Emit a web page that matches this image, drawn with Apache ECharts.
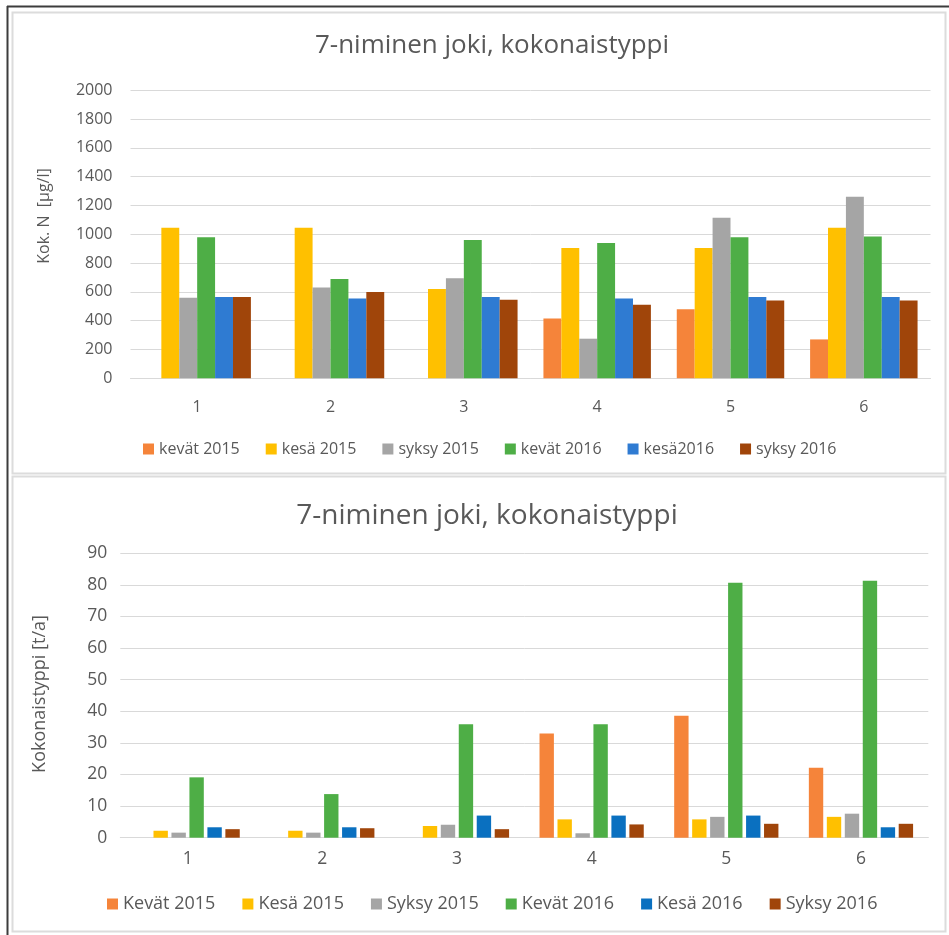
<!DOCTYPE html>
<html>
<head>
<meta charset="utf-8">
<title>7-niminen joki, kokonaistyppi</title>
<script src="https://cdn.jsdelivr.net/npm/echarts@6/dist/echarts.min.js"></script>
<style>
  html, body { margin: 0; padding: 0; background: #ffffff; }
  #chart { width: 949px; height: 935px; }
</style>
</head>
<body>
<div id="chart"></div>
<script>
// Sampling sites
const categories = ['1', '2', '3', '4', '5', '6'];

// Total nitrogen concentration, µg/l
const concNames = ['kevät 2015', 'kesä 2015', 'syksy 2015', 'kevät 2016', 'kesä2016', 'syksy 2016'];
const concKevat2015 = [null, null, null, 415, 480, 270];
const concKesa2015  = [1045, 1045, 620, 905, 905, 1045];
const concSyksy2015 = [560, 630, 695, 275, 1115, 1260];
const concKevat2016 = [980, 690, 960, 940, 980, 985];
const concKesa2016  = [565, 555, 565, 555, 565, 565];
const concSyksy2016 = [565, 600, 545, 510, 540, 540];

// Total nitrogen load, t/a
const loadNames = ['Kevät 2015', 'Kesä 2015', 'Syksy 2015', 'Kevät 2016', 'Kesä 2016', 'Syksy 2016'];
const loadKevat2015 = [null, null, null, 33.0, 38.6, 22.1];
const loadKesa2015  = [2.2, 2.2, 3.7, 5.8, 5.8, 6.6];
const loadSyksy2015 = [1.6, 1.6, 4.1, 1.4, 6.6, 7.6];
const loadKevat2016 = [19.1, 13.8, 35.9, 35.9, 80.7, 81.3];
const loadKesa2016  = [3.3, 3.3, 7.0, 7.0, 7.0, 3.3];
const loadSyksy2016 = [2.7, 3.0, 2.7, 4.2, 4.4, 4.4];

const concColors = ['#F5843A', '#FFC000', '#A5A5A5', '#4EAE46', '#2F7BD2', '#A0450A'];
const loadColors = ['#F5843A', '#FFC000', '#A5A5A5', '#4EAE46', '#0A70C0', '#A0450A'];

const FONT = 'Open Sans';
const TEXT = '#595959';
const GRID_LINE = '#d9d9d9';

const chart = echarts.init(document.getElementById('chart'), null, { renderer: 'canvas' });

function valueAxis(gridIndex, max, interval, fontSize, margin) {
  return {
    type: 'value', gridIndex, min: 0, max, interval,
    axisLine: { show: false }, axisTick: { show: false },
    axisLabel: { color: TEXT, fontFamily: FONT, fontSize, margin,
                 formatter: (v) => String(v) },
    splitLine: { lineStyle: { color: GRID_LINE, width: 1 } }
  };
}
function categoryAxis(gridIndex, fontSize, margin) {
  return {
    type: 'category', gridIndex, data: categories,
    axisLine: { lineStyle: { color: GRID_LINE, width: 1 } },
    axisTick: { show: false },
    axisLabel: { color: TEXT, fontFamily: FONT, fontSize, margin }
  };
}
function barSeries(names, values, colors, axisIndex, gap, catGap) {
  return values.map((data, i) => ({
    type: 'bar', name: names[i], data,
    xAxisIndex: axisIndex, yAxisIndex: axisIndex,
    barGap: gap, barCategoryGap: catGap,
    itemStyle: { color: colors[i] },
    emphasis: { disabled: true }
  }));
}

const option = {
  backgroundColor: '#ffffff',
  animation: false,
  title: [
    { text: '7-niminen joki, kokonaistyppi', left: 487, top: 28, textAlign: 'center',
      textStyle: { color: TEXT, fontFamily: FONT, fontSize: 26, fontWeight: 'normal' } },
    { text: '7-niminen joki, kokonaistyppi', left: 482, top: 497, textAlign: 'center',
      textStyle: { color: TEXT, fontFamily: FONT, fontSize: 28, fontWeight: 'normal' } }
  ],
  legend: [
    { data: concNames, left: 138, top: 436, itemWidth: 11, itemHeight: 11, itemGap: 26,
      icon: 'rect', textStyle: { color: TEXT, fontFamily: FONT, fontSize: 16 } },
    { data: loadNames, left: 102, top: 890, itemWidth: 11, itemHeight: 11, itemGap: 27,
      icon: 'rect', textStyle: { color: TEXT, fontFamily: FONT, fontSize: 18 } }
  ],
  grid: [
    { left: 130.5, right: 18.5, top: 90.3, height: 288 },
    { left: 120.3, right: 20.7, top: 553.3, height: 284.4 }
  ],
  xAxis: [categoryAxis(0, 16, 21), categoryAxis(1, 17.5, 12)],
  yAxis: [valueAxis(0, 2000, 200, 16, 18), valueAxis(1, 90, 10, 17.5, 13)],
  series: [
    ...barSeries(concNames,
      [concKevat2015, concKesa2015, concSyksy2015, concKevat2016, concKesa2016, concSyksy2016],
      concColors, 0, '0%', '19.4%'),
    ...barSeries(loadNames,
      [loadKevat2015, loadKesa2015, loadSyksy2015, loadKevat2016, loadKesa2016, loadSyksy2016],
      loadColors, 1, '25%', '22.6%')
  ],
  graphic: [
    // chart frames
    { type: 'rect', z: -10, shape: { x: 12.5, y: 12.5, width: 933, height: 461 },
      style: { fill: '#ffffff', stroke: '#dcdcdc', lineWidth: 2 } },
    { type: 'rect', z: -10, shape: { x: 12.5, y: 476.5, width: 933, height: 455 },
      style: { fill: '#ffffff', stroke: '#dcdcdc', lineWidth: 2 } },
    { type: 'line', z: 10, shape: { x1: 7, y1: 6.5, x2: 949, y2: 6.5 },
      style: { stroke: '#3c3c3c', lineWidth: 2 } },
    { type: 'line', z: 10, shape: { x1: 7.5, y1: 6, x2: 7.5, y2: 935 },
      style: { stroke: '#3c3c3c', lineWidth: 2 } },
    // value-axis titles
    { type: 'text', x: 44, y: 216, rotation: Math.PI / 2,
      style: { text: 'Kok. N  [µg/l]', fill: TEXT, font: '16px "Open Sans"',
               align: 'center', verticalAlign: 'middle' } },
    { type: 'text', x: 40, y: 694, rotation: Math.PI / 2,
      style: { text: 'Kokonaistyppi [t/a]', fill: TEXT, font: '18px "Open Sans"',
               align: 'center', verticalAlign: 'middle' } }
  ]
};

chart.setOption(option);
</script>
</body>
</html>
